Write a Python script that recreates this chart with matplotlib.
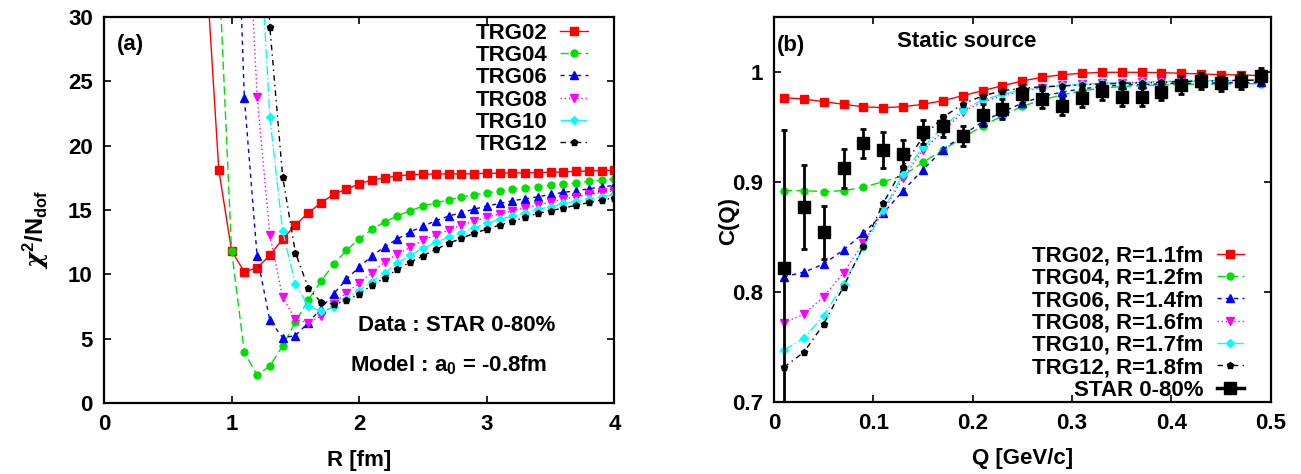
import matplotlib
matplotlib.use("Agg")
import matplotlib.pyplot as plt
from matplotlib.lines import Line2D

plt.rcParams['font.family'] = ['Liberation Sans', 'DejaVu Sans']
plt.rcParams['font.weight'] = 'bold'
plt.rcParams['font.size'] = 16
plt.rcParams['mathtext.fontset'] = 'custom'
plt.rcParams['mathtext.rm'] = 'Liberation Sans:bold'
plt.rcParams['mathtext.bf'] = 'Liberation Sans:bold'
plt.rcParams['mathtext.it'] = 'DejaVu Serif:italic'

# ---------------- Panel (a) data ----------------
R_grid = [0.8, 0.9, 1.0, 1.1, 1.2, 1.3, 1.4, 1.5, 1.6, 1.7, 1.8, 1.9, 2.0, 2.1, 2.2, 2.3,
          2.4, 2.5, 2.6, 2.7, 2.8, 2.9, 3.0, 3.1, 3.2, 3.3, 3.4, 3.5, 3.6, 3.7, 3.8, 3.9, 4.0]

chi_trg02 = [34.0, 18.1, 11.84, 10.2, 10.52, 11.48, 12.74, 13.84, 14.77, 15.56, 16.22, 16.63,
             17.03, 17.33, 17.49, 17.66, 17.73, 17.77, 17.8, 17.8, 17.8, 17.82, 17.85, 17.86,
             17.88, 17.88, 17.9, 17.93, 17.95, 18.0, 18.03, 18.05, 18.1]
chi_trg04 = [34.0, 11.84, 3.95, 2.2, 2.89, 4.46, 6.3, 8.0, 9.48, 10.79, 11.88, 12.76, 13.51,
             14.08, 14.55, 14.95, 15.3, 15.56, 15.77, 16.0, 16.18, 16.33, 16.46, 16.6, 16.72,
             16.82, 16.91, 17.01, 17.11, 17.22, 17.31, 17.4]
chi_trg06 = [52.0, 23.7, 11.42, 6.43, 5.1, 5.25, 6.25, 7.35, 8.5, 9.63, 10.58, 11.43, 12.16,
             12.76, 13.31, 13.75, 14.17, 14.53, 14.79, 15.07, 15.31, 15.51, 15.72, 15.87, 16.03,
             16.21, 16.37, 16.49, 16.65, 16.8, 16.91]
chi_trg08 = [43.8, 23.8, 13.06, 8.22, 6.52, 6.25, 6.77, 7.7, 8.6, 9.3, 10.15, 10.95, 11.6,
             12.1, 12.67, 13.06, 13.44, 13.83, 14.14, 14.43, 14.69, 14.94, 15.17, 15.38, 15.62,
             15.83, 16.03, 16.21, 16.37, 16.49]
chi_trg10 = [40.0, 22.2, 13.37, 9.26, 7.56, 7.16, 7.45, 8.1, 8.75, 9.45, 10.13, 10.88, 11.5,
             12.02, 12.49, 12.88, 13.24, 13.62, 13.96, 14.27, 14.53, 14.79, 15.05, 15.25, 15.51,
             15.69, 15.87, 16.03, 16.21]
chi_trg12 = [50.0, 29.2, 17.6, 11.7, 8.97, 7.86, 7.68, 7.99, 8.48, 9.17, 9.74, 10.4, 10.96,
             11.45, 11.95, 12.41, 12.8, 13.19, 13.52, 13.83, 14.14, 14.43, 14.74, 14.94, 15.17,
             15.36, 15.59, 15.77, 15.95]

labels_a = ["TRG02", "TRG04", "TRG06", "TRG08", "TRG10", "TRG12"]

# ---------------- Panel (b) data ----------------
Q = [0.01, 0.03, 0.05, 0.07, 0.09, 0.11, 0.13, 0.15, 0.17, 0.19, 0.21, 0.23, 0.25,
     0.27, 0.29, 0.31, 0.33, 0.35, 0.37, 0.39, 0.41, 0.43, 0.45, 0.47, 0.49]
C_trg02 = [0.9769, 0.9757, 0.9733, 0.9709, 0.9687, 0.9678, 0.9687, 0.9709, 0.9742, 0.9787,
           0.9833, 0.9878, 0.9921, 0.9955, 0.9978, 0.9991, 1.0, 1.0, 1.0, 0.9997, 0.9991,
           0.9985, 0.9978, 0.9976, 0.997]
C_trg04 = [0.8924, 0.8924, 0.8915, 0.8924, 0.8955, 0.9006, 0.906, 0.9182, 0.9294, 0.9405,
           0.9512, 0.9605, 0.969, 0.975, 0.9794, 0.9833, 0.9855, 0.987, 0.9879, 0.9886,
           0.989, 0.9892, 0.9894, 0.9896, 0.9897]
C_trg06 = [0.8142, 0.8182, 0.8257, 0.8385, 0.8536, 0.8718, 0.8924, 0.9115, 0.9294, 0.943,
           0.955, 0.964, 0.972, 0.978, 0.982, 0.985, 0.987, 0.9885, 0.989, 0.9895, 0.99,
           0.99, 0.9905, 0.9905, 0.991]
C_trg08 = [0.7724, 0.78, 0.796, 0.8178, 0.8451, 0.8733, 0.904, 0.9294, 0.946, 0.9642,
           0.973, 0.979, 0.983, 0.986, 0.988, 0.989, 0.99, 0.9905, 0.991, 0.9915, 0.992,
           0.992, 0.9925, 0.9925, 0.993]
C_trg10 = [0.7475, 0.7582, 0.7788, 0.8073, 0.8409, 0.8748, 0.9075, 0.9318, 0.95, 0.9657,
           0.9748, 0.98, 0.984, 0.986, 0.988, 0.989, 0.99, 0.9905, 0.991, 0.9915, 0.992,
           0.992, 0.9925, 0.9925, 0.993]
C_trg12 = [0.7318, 0.7455, 0.7709, 0.8051, 0.8421, 0.8809, 0.9136, 0.9415, 0.959, 0.9712,
           0.9785, 0.9833, 0.9855, 0.9869, 0.9875, 0.9885, 0.9894, 0.99, 0.9903, 0.991,
           0.9915, 0.9921, 0.9924, 0.9927, 0.993]
C_star = [0.8218, 0.8773, 0.8545, 0.9127, 0.9355, 0.9294, 0.9257, 0.946, 0.9512, 0.9421,
          0.9615, 0.9663, 0.9805, 0.9755, 0.969, 0.9764, 0.9832, 0.9775, 0.9773, 0.9824,
          0.9885, 0.9921, 0.990, 0.9921, 0.9967]
C_star_err = [0.126, 0.038, 0.024, 0.018, 0.013, 0.016, 0.013, 0.011, 0.01, 0.009, 0.01,
              0.009, 0.008, 0.008, 0.008, 0.008, 0.008, 0.008, 0.008, 0.008, 0.008, 0.007,
              0.007, 0.007, 0.007]
labels_b = ["TRG02, R=1.1fm", "TRG04, R=1.2fm", "TRG06, R=1.4fm", "TRG08, R=1.6fm",
            "TRG10, R=1.7fm", "TRG12, R=1.8fm"]
label_star = "STAR 0-80%"

# ---------------- styles ----------------
styles = [
    dict(color='#ff0000', marker='s', ms=5.6, ls='-'),
    dict(color='#00e000', marker='o', ms=5.0, ls=(0, (6, 3))),
    dict(color='#0000ff', marker='^', ms=5.6, ls=(0, (3, 3))),
    dict(color='#ff00ff', marker='v', ms=5.6, ls=(0, (1, 2))),
    dict(color='#00ffff', marker='D', ms=4.2, ls=(0, (7, 2, 1, 2))),
    dict(color='#000000', marker='p', ms=5.0, ls=(0, (4, 3, 1, 3))),
]

fig = plt.figure(figsize=(13.01, 4.74), dpi=100)
ax1 = fig.add_axes([0.0799, 0.1491, 0.3924, 0.8156])
ax2 = fig.add_axes([0.5949, 0.1513, 0.3818, 0.8122])

# ---------------- Panel (a) ----------------
series_a = [chi_trg02, chi_trg04, chi_trg06, chi_trg08, chi_trg10, chi_trg12]
handles_a = []
for vals, st, lab in zip(series_a, styles, labels_a):
    r = R_grid[len(R_grid) - len(vals):]
    h, = ax1.plot(r, vals, color=st['color'], marker=st['marker'], ms=st['ms'],
                  ls=st['ls'], lw=1.0, mec=st['color'], mfc=st['color'], label=lab)
    handles_a.append(h)

ax1.set_xlim(0, 4)
ax1.set_ylim(0, 30)
ax1.set_xticks([0, 1, 2, 3, 4])
ax1.set_yticks([0, 5, 10, 15, 20, 25, 30])
ax1.set_xlabel('R [fm]', fontweight='bold')
ax1.xaxis.set_label_coords(0.5, -0.12)
ax1.set_ylabel(r'$\chi^{2}$/N$_{\mathrm{dof}}$', fontweight='bold', fontsize=17)
ax1.yaxis.set_label_coords(-0.103, 0.45)
ax1.text(0.025, 0.927, '(a)', transform=ax1.transAxes, ha='left', va='center', fontweight='bold')
ax1.text(2.76, 6.07, 'Data : STAR 0-80%', ha='center', va='center', fontweight='bold')
ax1.text(2.70, 2.97, r'Model : a$_{0}$ = -0.8fm', ha='center', va='center', fontweight='bold')
leg1 = ax1.legend(handles=handles_a, loc='upper right', bbox_to_anchor=(0.9487, 0.985),
                  frameon=False, markerfirst=False, handlelength=1.25, handletextpad=0.6,
                  labelspacing=0.06, borderpad=0, borderaxespad=0,
                  prop=dict(weight='bold', size=16))

# ---------------- Panel (b) ----------------
series_b = [C_trg02, C_trg04, C_trg06, C_trg08, C_trg10, C_trg12]
handles_b = []
for vals, st, lab in zip(series_b, styles, labels_b):
    h, = ax2.plot(Q, vals, color=st['color'], marker=st['marker'], ms=st['ms'],
                  ls=st['ls'], lw=1.0, mec=st['color'], mfc=st['color'], label=lab)
    handles_b.append(h)
ax2.errorbar(Q, C_star, yerr=C_star_err, fmt='s', color='black', ms=8, elinewidth=2,
             capsize=2.5, capthick=2, zorder=5)
h_star = Line2D([], [], color='black', lw=2.5, marker='s', ms=8)
handles_b.append(h_star)

ax2.set_xlim(0, 0.5)
ax2.set_ylim(0.7, 1.05)
ax2.set_xticks([0, 0.1, 0.2, 0.3, 0.4, 0.5])
ax2.set_xticklabels(['0', '0.1', '0.2', '0.3', '0.4', '0.5'])
ax2.set_yticks([0.7, 0.8, 0.9, 1.0])
ax2.set_yticklabels(['0.7', '0.8', '0.9', '1'])
ax2.set_xlabel('Q [GeV/c]', fontweight='bold')
ax2.xaxis.set_label_coords(0.5, -0.12)
ax2.set_ylabel('C(Q)', fontweight='bold')
ax2.yaxis.set_label_coords(-0.07, 0.47)
ax2.text(0.005, 0.928, '(b)', transform=ax2.transAxes, ha='left', va='center', fontweight='bold')
ax2.text(0.387, 0.936, 'Static source', transform=ax2.transAxes, ha='center', va='center',
         fontweight='bold')
leg2 = ax2.legend(handles=handles_b, labels=labels_b + [label_star], loc='upper right',
                  bbox_to_anchor=(0.947, 0.407), frameon=False, markerfirst=False,
                  handlelength=1.25, handletextpad=0.6, labelspacing=0.06, borderpad=0,
                  borderaxespad=0, prop=dict(weight='bold', size=16))

for ax in (ax1, ax2):
    for sp in ax.spines.values():
        sp.set_linewidth(1.6)
    ax.tick_params(direction='in', length=5, width=1.2, top=True, right=True,
                   labelsize=16, pad=8)
    for lab in ax.get_xticklabels() + ax.get_yticklabels():
        lab.set_fontweight('bold')

fig.savefig('out.png', dpi=100)
